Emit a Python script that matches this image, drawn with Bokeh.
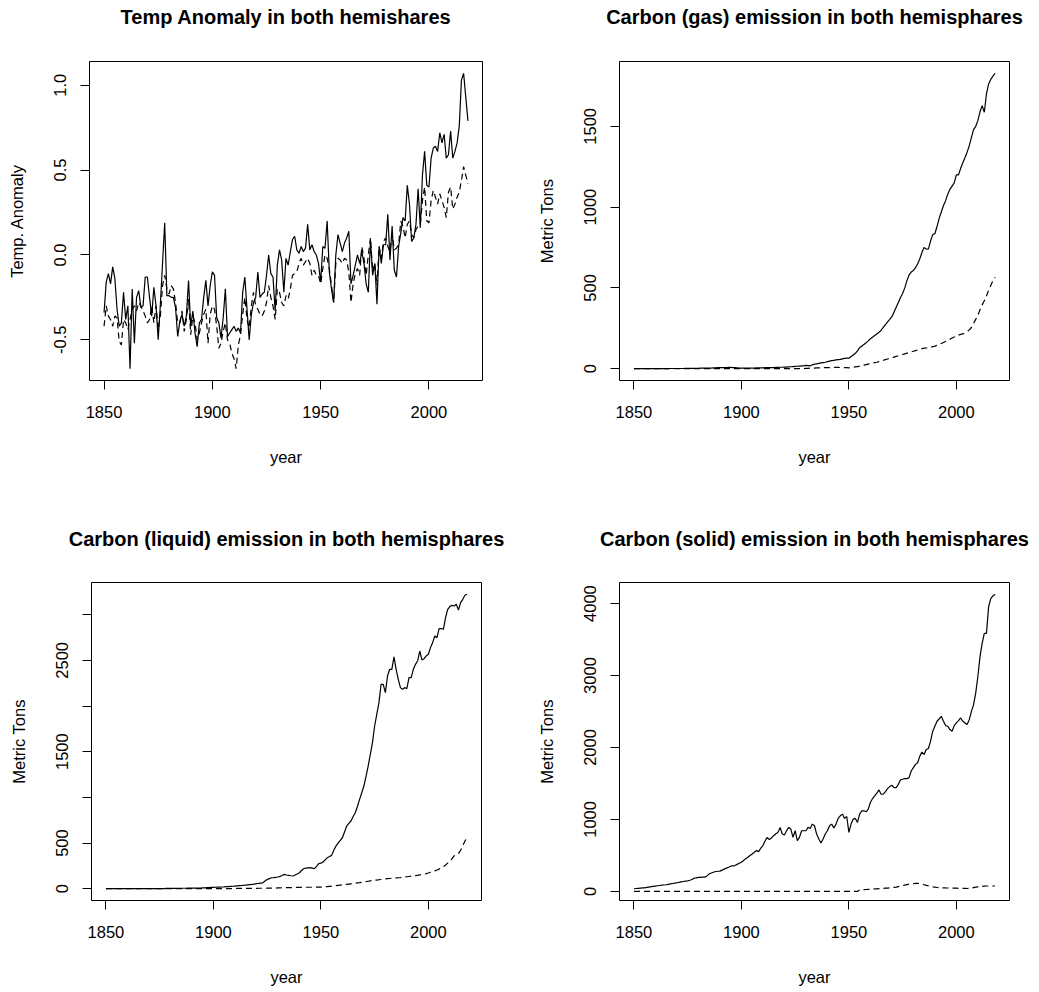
from bokeh.plotting import figure
from bokeh.models import Range1d, FixedTicker, LinearAxis
from bokeh.layouts import column, row
from bokeh.embed import file_html
from bokeh.resources import INLINE

FONT = "Liberation Sans"

years = list(range(1850, 2019))
x_ticks = [1850, 1900, 1950, 2000]

temp_north = [
    -0.34, -0.16, -0.11, -0.17, -0.07, -0.14, -0.32, -0.42, -0.40, -0.22,
    -0.38, -0.30, -0.67, -0.20, -0.52, -0.25, -0.21, -0.31, -0.30, -0.13,
    -0.13, -0.25, -0.36, -0.19, -0.30, -0.50, -0.29, -0.05, 0.19, -0.24,
    -0.24, -0.25, -0.25, -0.31, -0.48, -0.39, -0.35, -0.42, -0.36, -0.15,
    -0.42, -0.33, -0.46, -0.54, -0.40, -0.38, -0.25, -0.15, -0.30, -0.18,
    -0.10, -0.12, -0.37, -0.40, -0.49, -0.37, -0.20, -0.48, -0.46, -0.44,
    -0.42, -0.45, -0.43, -0.46, -0.22, -0.13, -0.32, -0.50, -0.35, -0.28,
    -0.25, -0.10, -0.25, -0.23, -0.22, -0.12, 0.00, -0.11, -0.13, -0.33,
    -0.06, 0.03, -0.03, -0.22, -0.02, -0.06, 0.02, 0.09, 0.11, 0.03,
    0.01, 0.05, 0.02, 0.04, 0.18, 0.03, 0.06, 0.02, 0.00, -0.05,
    -0.16, 0.05, 0.04, 0.20, -0.10, -0.20, -0.28, 0.00, 0.12, 0.07,
    0.02, 0.07, 0.10, 0.14, -0.17, -0.12, -0.06, 0.00, -0.05, 0.02,
    -0.05, -0.17, -0.22, 0.09, -0.12, -0.05, -0.29, 0.05, -0.05, 0.06,
    0.06, 0.24, -0.03, 0.17, -0.09, -0.13, 0.05, 0.13, 0.22, 0.20,
    0.41, 0.30, 0.08, 0.10, 0.18, 0.39, 0.16, 0.47, 0.61, 0.41,
    0.40, 0.57, 0.63, 0.64, 0.61, 0.72, 0.66, 0.71, 0.57, 0.59,
    0.73, 0.57, 0.61, 0.66, 0.76, 1.03, 1.07, 0.93, 0.79,
]
temp_south = [
    -0.42, -0.30, -0.36, -0.38, -0.42, -0.36, -0.37, -0.51, -0.53, -0.38,
    -0.40, -0.44, -0.38, -0.32, -0.30, -0.33, -0.28, -0.30, -0.33, -0.36,
    -0.40, -0.38, -0.30, -0.40, -0.30, -0.44, -0.36, -0.18, -0.12, -0.20,
    -0.23, -0.18, -0.20, -0.28, -0.40, -0.40, -0.33, -0.45, -0.38, -0.26,
    -0.47, -0.36, -0.40, -0.50, -0.46, -0.40, -0.35, -0.32, -0.52, -0.35,
    -0.30, -0.32, -0.42, -0.55, -0.52, -0.45, -0.40, -0.50, -0.52, -0.58,
    -0.61, -0.67, -0.53, -0.47, -0.35, -0.25, -0.38, -0.43, -0.30, -0.22,
    -0.30, -0.32, -0.35, -0.36, -0.33, -0.28, -0.18, -0.25, -0.30, -0.38,
    -0.20, -0.22, -0.28, -0.30, -0.24, -0.26, -0.20, -0.12, -0.11, -0.10,
    -0.05, -0.02, -0.06, -0.04, -0.02, -0.05, -0.12, -0.09, -0.12, -0.12,
    -0.17, -0.08, 0.00, -0.02, -0.08, -0.18, -0.28, -0.05, -0.02, -0.03,
    -0.05, -0.02, -0.03, -0.10, -0.28, -0.17, -0.11, -0.08, -0.12, 0.05,
    -0.02, -0.12, 0.00, 0.10, -0.10, -0.05, -0.18, 0.05, -0.02, 0.08,
    0.10, 0.05, 0.02, 0.12, 0.03, 0.04, 0.06, 0.20, 0.17, 0.10,
    0.18, 0.20, 0.12, 0.10, 0.15, 0.17, 0.18, 0.32, 0.40, 0.20,
    0.19, 0.32, 0.38, 0.34, 0.30, 0.36, 0.32, 0.28, 0.22, 0.37,
    0.40, 0.27, 0.30, 0.34, 0.37, 0.44, 0.52, 0.47, 0.42,
]

gas_north = [
    0, 0, 0, 0, 0, 0, 0, 0, 0, 0,
    0, 0, 0, 0, 0, 0, 0, 1, 1, 1,
    1, 1, 1, 1, 2, 2, 2, 2, 2, 2,
    2, 3, 3, 3, 4, 4, 4, 5, 5, 6,
    6, 7, 7, 7, 8, 8, 7, 6, 5, 4,
    3, 3, 3, 3, 4, 4, 4, 5, 5, 5,
    5, 6, 6, 6, 7, 7, 8, 8, 9, 9,
    10, 10, 11, 12, 13, 14, 15, 16, 17, 18,
    20, 19, 18, 24, 28, 30, 33, 36, 38, 40,
    44, 47, 50, 52, 54, 56, 58, 61, 64, 66,
    65, 75, 85, 95, 110, 130, 140, 150, 160, 172,
    185, 195, 205, 215, 225, 238, 255, 272, 290, 305,
    322, 350, 380, 410, 440, 465, 500, 545, 580, 598,
    608, 625, 650, 680, 720, 750, 740, 742, 790, 830,
    835, 880, 930, 970, 1010, 1040, 1080, 1110, 1130, 1150,
    1200, 1200, 1240, 1275, 1305, 1340, 1380, 1430, 1480, 1500,
    1535, 1590, 1628, 1587, 1700, 1762, 1790, 1810, 1828,
]
gas_south = [
    0, 0, 0, 0, 0, 0, 0, 0, 0, 0,
    0, 0, 0, 0, 0, 0, 0, 0, 0, 0,
    0, 0, 0, 0, 0, 0, 0, 0, 0, 0,
    0, 0, 0, 0, 0, 0, 0, 0, 0, 0,
    0, 0, 0, 0, 0, 0, 0, 0, 0, 0,
    0, 0, 0, 0, 0, 0, 0, 0, 0, 0,
    0, 0, 0, 0, 0, 0, 0, 0, 0, 0,
    0, 0, 0, 0, 0, 0, 0, 0, 0, 0,
    2, 2, 3, 3, 4, 5, 5, 6, 6, 7,
    7, 7, 8, 8, 8, 8, 7, 7, 6, 6,
    5, 7, 9, 11, 13, 16, 19, 22, 25, 28,
    31, 34, 37, 40, 44, 48, 52, 56, 60, 64,
    68, 72, 76, 80, 84, 88, 92, 96, 100, 104,
    108, 112, 116, 120, 124, 127, 128, 130, 133, 136,
    140, 145, 150, 156, 162, 168, 175, 182, 190, 196,
    202, 208, 212, 215, 222, 230, 240, 255, 280, 305,
    330, 365, 395, 420, 450, 485, 515, 545, 565,
]

liquid_north = [
    0, 0, 0, 0, 0, 0, 0, 0, 0, 0,
    0, 0, 0, 0, 1, 1, 1, 1, 1, 1,
    1, 1, 1, 2, 2, 2, 2, 2, 3, 3,
    3, 3, 4, 4, 4, 5, 5, 5, 6, 6,
    6, 7, 7, 8, 8, 9, 10, 11, 12, 14,
    15, 16, 17, 18, 19, 20, 22, 23, 25, 27,
    29, 31, 33, 35, 37, 39, 42, 45, 48, 51,
    55, 58, 62, 65, 85, 100, 110, 120, 122, 125,
    128, 135, 145, 157, 150, 146, 142, 139, 150, 162,
    175, 200, 219, 225, 228, 230, 225, 219, 245, 274,
    280, 292, 315, 340, 352, 365, 420, 467, 500, 530,
    558, 620, 686, 715, 741, 790, 832, 900, 978, 1050,
    1124, 1230, 1343, 1470, 1599, 1781, 1909, 2037, 2237, 2237,
    2146, 2329, 2402, 2402, 2537, 2402, 2292, 2201, 2183, 2201,
    2190, 2310, 2310, 2402, 2456, 2493, 2602, 2504, 2518, 2548,
    2566, 2639, 2694, 2767, 2748, 2847, 2847, 2840, 2967, 3059,
    3088, 3102, 3095, 3113, 3051, 3132, 3168, 3212, 3223,
]
liquid_south = [
    0, 0, 0, 0, 0, 0, 0, 0, 0, 0,
    0, 0, 0, 0, 0, 0, 0, 0, 0, 0,
    0, 0, 0, 0, 0, 0, 0, 0, 0, 0,
    0, 0, 0, 0, 0, 0, 0, 0, 0, 0,
    0, 0, 0, 0, 0, 0, 0, 0, 0, 0,
    1, 1, 1, 1, 1, 2, 2, 2, 2, 2,
    2, 3, 3, 3, 3, 3, 4, 4, 4, 4,
    4, 5, 5, 5, 5, 6, 6, 6, 6, 7,
    10, 10, 11, 11, 12, 12, 13, 13, 14, 14,
    15, 15, 15, 16, 16, 16, 16, 17, 17, 18,
    18, 20, 22, 24, 26, 28, 30, 33, 36, 39,
    42, 45, 48, 51, 54, 57, 60, 63, 66, 70,
    74, 78, 82, 86, 89, 92, 95, 98, 101, 104,
    107, 110, 112, 114, 116, 118, 120, 122, 125, 128,
    131, 134, 137, 140, 143, 147, 151, 156, 161, 166,
    172, 180, 188, 196, 205, 215, 228, 242, 260, 280,
    300, 330, 360, 375, 385, 420, 470, 520, 565,
]

solid_north = [
    37, 40, 43, 46, 48, 50, 55, 60, 65, 70,
    74, 78, 82, 86, 89, 92, 98, 104, 110, 115,
    120, 125, 131, 137, 142, 147, 155, 165, 184, 188,
    194, 195, 197, 198, 215, 244, 255, 266, 276, 280,
    281, 295, 310, 323, 335, 350, 355, 359, 375, 390,
    405, 430, 455, 475, 498, 520, 545, 567, 553, 600,
    636, 700, 751, 719, 745, 774, 800, 820, 889, 797,
    783, 843, 889, 866, 751, 843, 705, 751, 843, 843,
    843, 889, 875, 935, 912, 797, 728, 673, 728, 797,
    843, 912, 935, 880, 935, 1014, 1050, 1074, 1014, 1041,
    820, 935, 1005, 1014, 958, 1074, 1120, 1120, 1106, 1143,
    1235, 1290, 1327, 1364, 1410, 1350, 1350, 1387, 1428, 1456,
    1475, 1442, 1442, 1488, 1548, 1558, 1567, 1567, 1581, 1673,
    1719, 1765, 1788, 1880, 1935, 1903, 1972, 1986, 2087, 2226,
    2295, 2364, 2396, 2433, 2364, 2304, 2295, 2249, 2226, 2304,
    2341, 2373, 2410, 2364, 2341, 2318, 2387, 2502, 2594, 2756,
    2986, 3262, 3447, 3585, 3585, 3954, 4069, 4106, 4129,
]
solid_south = [
    0, 0, 0, 0, 0, 0, 0, 0, 0, 0,
    0, 0, 0, 0, 0, 0, 0, 0, 0, 0,
    0, 0, 0, 0, 0, 0, 0, 0, 0, 0,
    0, 0, 0, 0, 0, 0, 0, 0, 0, 0,
    0, 0, 0, 0, 0, 0, 0, 0, 0, 0,
    0, 0, 0, 0, 0, 0, 0, 0, 0, 0,
    0, 0, 0, 0, 0, 0, 0, 0, 0, 0,
    0, 0, 0, 0, 0, 0, 0, 0, 0, 0,
    0, 0, 0, 0, 0, 0, 0, 0, 0, 0,
    0, 0, 0, 0, 0, 0, 0, 0, 0, 0,
    0, 0, 0, 0, 0, 20, 22, 24, 26, 28,
    30, 32, 34, 36, 38, 40, 42, 44, 46, 48,
    50, 55, 60, 66, 72, 80, 88, 95, 100, 104,
    106, 110, 112, 108, 100, 92, 84, 76, 68, 62,
    58, 54, 52, 50, 50, 48, 47, 46, 45, 45,
    44, 43, 42, 42, 41, 40, 42, 46, 52, 58,
    62, 66, 70, 74, 75, 75, 75, 75, 75,
]

temp_ticks = [-0.5, 0, 0.5, 1]
temp_tick_labels = ["-0.5", "0.0", "0.5", "1.0"]
gas_ticks = [0, 500, 1000, 1500]
gas_tick_labels = ["0", "500", "1000", "1500"]
liquid_ticks = [0, 500, 1000, 1500, 2000, 2500, 3000]
liquid_tick_labels = ["0", "500", "", "1500", "", "2500", ""]
solid_ticks = [0, 1000, 2000, 3000, 4000]
solid_tick_labels = ["0", "1000", "2000", "3000", "4000"]

titles = [
    "Temp Anomaly in both hemishares",
    "Carbon (gas) emission in both hemisphares",
    "Carbon (liquid) emission in both hemisphares",
    "Carbon (solid) emission in both hemisphares",
]


def padded(lo, hi):
    ext = 0.04 * (hi - lo)
    return lo - ext, hi + ext


def make_fig(title, ylabel, north, south, yticks, ylabels, w, h, ml, mr, mt, mb, title_gap):
    x0, x1 = padded(min(years), max(years))
    # like R's plot(): the y range comes from the first (northern) series only
    y0, y1 = padded(min(north), max(north))
    p = figure(width=w, height=h, output_backend="svg", toolbar_location=None, title=None,
               min_border_left=ml, min_border_right=mr, min_border_top=mt, min_border_bottom=mb,
               x_range=Range1d(x0, x1), y_range=Range1d(y0, y1),
               background_fill_color="white", border_fill_color="white")
    p.line(years, north, line_color="black", line_width=1.2)
    p.line(years, south, line_color="black", line_width=1.2, line_dash="6 4")

    p.grid.visible = False
    p.outline_line_color = "black"
    p.outline_line_alpha = 1.0
    p.outline_line_width = 1

    xax = p.below[0]
    yax = p.left[0]
    xax.ticker = FixedTicker(ticks=x_ticks)
    yax.ticker = FixedTicker(ticks=yticks)
    yax.major_label_overrides = dict(zip(yticks, ylabels))
    xax.axis_label = "year"
    yax.axis_label = ylabel
    for ax in (xax, yax):
        ax.axis_line_color = None
        ax.major_tick_out = 9
        ax.major_tick_in = 0
        ax.minor_tick_out = 0
        ax.minor_tick_in = 0
        ax.major_tick_line_color = "black"
        ax.major_tick_line_width = 1
        ax.major_label_text_font = FONT
        ax.major_label_text_font_size = "16.5px"
        ax.major_label_text_color = "black"
        ax.axis_label_text_font = FONT
        ax.axis_label_text_font_size = "16.5px"
        ax.axis_label_text_font_style = "normal"
        ax.axis_label_text_color = "black"
    yax.major_label_orientation = "vertical"
    yax.major_label_standoff = 14
    xax.major_label_standoff = 16
    yax.axis_label_standoff = 26
    xax.axis_label_standoff = 27

    # title drawn as the label of a tick-less axis above the frame
    tax = LinearAxis(ticker=FixedTicker(ticks=[]), axis_label=title,
                     axis_line_color=None, major_tick_out=0, major_tick_in=0,
                     minor_tick_out=0, minor_tick_in=0, major_label_standoff=0,
                     axis_label_standoff=title_gap,
                     axis_label_text_font=FONT, axis_label_text_font_size="20px",
                     axis_label_text_font_style="bold", axis_label_text_color="black")
    p.add_layout(tax, "above")
    return p


p1 = make_fig(titles[0], "Temp. Anomaly", temp_north, temp_south, temp_ticks, temp_tick_labels,
              520, 496, 89, 38, 61, 116, 34)
p2 = make_fig(titles[1], "Metric Tons", gas_north, gas_south, gas_ticks, gas_tick_labels,
              519, 496, 99, 30, 61, 116, 34)
p3 = make_fig(titles[2], "Metric Tons", liquid_north, liquid_south, liquid_ticks, liquid_tick_labels,
              520, 496, 91, 39, 86, 92, 33)
p4 = make_fig(titles[3], "Metric Tons", solid_north, solid_south, solid_ticks, solid_tick_labels,
              519, 496, 99, 30, 86, 91, 33)

layout = column(row(p1, p2), row(p3, p4))
open("out.html", "w").write(file_html(layout, INLINE))
